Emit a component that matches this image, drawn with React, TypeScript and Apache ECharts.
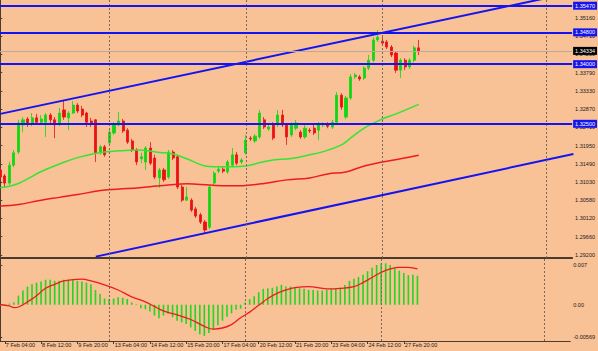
import React, { useEffect, useRef } from "react";
import * as echarts from "echarts";

// ---- data ----
const xTickLabels = ["7 Feb 04:00", "8 Feb 12:00", "9 Feb 20:00", "13 Feb 04:00", "14 Feb 12:00", "15 Feb 20:00", "17 Feb 04:00", "20 Feb 12:00", "21 Feb 20:00", "23 Feb 04:00", "24 Feb 12:00", "27 Feb 20:00"];
const xTickBars = [1, 9, 17, 25, 33, 41, 49, 57, 65, 73, 81, 89];
const priceTickLabels = ["1.29200", "1.29660", "1.30120", "1.30580", "1.31030", "1.31490", "1.31950", "1.32410", "1.32870", "1.33330", "1.33790", "1.34250", "1.34710", "1.35160"];
const macdTickValues = [0.007, 0, -0.00569];
const macdTickLabels = ["0.007", "0.00", "-0.00569"];
const weekSeparators = [24, 54, 84, 120];

// [open, close, low, high]
const candles = [
  [1.3134, 1.3116, 1.3111, 1.3139], [1.3119, 1.3101, 1.3091, 1.3124], [1.3101, 1.3146, 1.3096, 1.3154], [1.3146, 1.3177, 1.3141, 1.3184],
  [1.3179, 1.3252, 1.3174, 1.3260], [1.3247, 1.3260, 1.3229, 1.3267], [1.3262, 1.3252, 1.3242, 1.3267], [1.3252, 1.3265, 1.3244, 1.3277],
  [1.3265, 1.3254, 1.3247, 1.3275], [1.3254, 1.3262, 1.3250, 1.3272], [1.3254, 1.3272, 1.3217, 1.3277], [1.3272, 1.3260, 1.3250, 1.3277],
  [1.3260, 1.3247, 1.3214, 1.3267], [1.3252, 1.3277, 1.3244, 1.3290], [1.3285, 1.3267, 1.3260, 1.3310], [1.3265, 1.3277, 1.3234, 1.3282],
  [1.3277, 1.3297, 1.3275, 1.3307], [1.3297, 1.3282, 1.3277, 1.3302], [1.3287, 1.3272, 1.3267, 1.3295], [1.3277, 1.3254, 1.3242, 1.3280],
  [1.3257, 1.3250, 1.3242, 1.3265], [1.3260, 1.3177, 1.3154, 1.3262], [1.3177, 1.3192, 1.3172, 1.3197], [1.3192, 1.3172, 1.3167, 1.3197],
  [1.3202, 1.3229, 1.3197, 1.3239], [1.3227, 1.3247, 1.3222, 1.3254], [1.3247, 1.3257, 1.3244, 1.3280], [1.3257, 1.3232, 1.3227, 1.3262],
  [1.3234, 1.3204, 1.3199, 1.3239], [1.3207, 1.3184, 1.3179, 1.3212], [1.3184, 1.3154, 1.3146, 1.3189], [1.3162, 1.3167, 1.3151, 1.3177],
  [1.3154, 1.3189, 1.3134, 1.3194], [1.3189, 1.3151, 1.3146, 1.3204], [1.3164, 1.3116, 1.3111, 1.3172], [1.3114, 1.3134, 1.3089, 1.3139],
  [1.3134, 1.3109, 1.3104, 1.3139], [1.3116, 1.3179, 1.3111, 1.3184], [1.3179, 1.3164, 1.3159, 1.3184], [1.3167, 1.3091, 1.3086, 1.3172],
  [1.3091, 1.3058, 1.3053, 1.3096], [1.3058, 1.3066, 1.3056, 1.3091], [1.3058, 1.3033, 1.3028, 1.3063], [1.3036, 1.3018, 1.3013, 1.3041],
  [1.3021, 1.3003, 1.2998, 1.3026], [1.3003, 1.2983, 1.2975, 1.3008], [1.2990, 1.3091, 1.2985, 1.3096], [1.3101, 1.3126, 1.3096, 1.3131],
  [1.3131, 1.3136, 1.3126, 1.3144], [1.3136, 1.3131, 1.3126, 1.3141], [1.3129, 1.3154, 1.3124, 1.3159], [1.3146, 1.3172, 1.3141, 1.3189],
  [1.3172, 1.3151, 1.3146, 1.3179], [1.3154, 1.3159, 1.3149, 1.3164], [1.3177, 1.3209, 1.3172, 1.3222], [1.3214, 1.3212, 1.3207, 1.3219],
  [1.3207, 1.3219, 1.3202, 1.3224], [1.3217, 1.3277, 1.3212, 1.3285], [1.3260, 1.3242, 1.3237, 1.3267], [1.3237, 1.3242, 1.3232, 1.3247],
  [1.3247, 1.3214, 1.3209, 1.3254], [1.3247, 1.3272, 1.3242, 1.3285], [1.3272, 1.3247, 1.3242, 1.3285], [1.3247, 1.3217, 1.3197, 1.3252],
  [1.3222, 1.3247, 1.3217, 1.3254], [1.3239, 1.3252, 1.3234, 1.3260], [1.3229, 1.3217, 1.3212, 1.3234], [1.3217, 1.3239, 1.3212, 1.3247],
  [1.3234, 1.3232, 1.3227, 1.3239], [1.3239, 1.3227, 1.3222, 1.3247], [1.3234, 1.3247, 1.3209, 1.3254], [1.3247, 1.3250, 1.3242, 1.3254],
  [1.3250, 1.3244, 1.3239, 1.3254], [1.3242, 1.3254, 1.3237, 1.3260], [1.3254, 1.3322, 1.3250, 1.3330], [1.3322, 1.3292, 1.3285, 1.3327],
  [1.3267, 1.3315, 1.3262, 1.3320], [1.3315, 1.3368, 1.3310, 1.3375], [1.3368, 1.3373, 1.3363, 1.3378], [1.3368, 1.3363, 1.3358, 1.3373],
  [1.3365, 1.3390, 1.3360, 1.3395], [1.3390, 1.3410, 1.3385, 1.3423], [1.3410, 1.3461, 1.3405, 1.3468], [1.3461, 1.3468, 1.3456, 1.3486],
  [1.3458, 1.3453, 1.3448, 1.3473], [1.3456, 1.3443, 1.3438, 1.3461], [1.3443, 1.3423, 1.3418, 1.3448], [1.3428, 1.3385, 1.3378, 1.3433],
  [1.3385, 1.3410, 1.3365, 1.3415], [1.3410, 1.3393, 1.3385, 1.3415], [1.3393, 1.3410, 1.3388, 1.3415], [1.3410, 1.3441, 1.3405, 1.3446],
  [1.3441, 1.3433, 1.3423, 1.3461],
];

// [bar, price]
const maFast = [
  [0, 1.3089], [4, 1.3100], [9, 1.3130], [13, 1.3149], [17, 1.3165], [22, 1.3178], [26, 1.3182], [30, 1.3184],
  [35, 1.3178], [38, 1.3174], [41, 1.3162], [45, 1.3144], [47, 1.3142], [51, 1.3142], [54, 1.3144], [57, 1.3152],
  [60, 1.3159], [64, 1.3163], [68, 1.3172], [71, 1.3180], [75, 1.3197], [77, 1.3214], [80, 1.3239], [84, 1.3262],
  [87, 1.3275], [92, 1.3299],
];
const maSlow = [
  [0, 1.3043], [4, 1.3047], [9, 1.3058], [13, 1.3065], [17, 1.3072], [22, 1.3082], [28, 1.3087], [33, 1.3092],
  [37, 1.3096], [41, 1.3099], [46, 1.3096], [50, 1.3094], [54, 1.3095], [58, 1.3100], [63, 1.3109], [68, 1.3114],
  [72, 1.3124], [76, 1.3129], [80, 1.3144], [84, 1.3154], [88, 1.3162], [92, 1.3171],
];

const macdHist = [
  -0.0002, -0.0002, 0.0002, 0.0004, 0.0016, 0.0025, 0.0032, 0.0036, 0.0039, 0.0041,
  0.0044, 0.0044, 0.0042, 0.0042, 0.0044, 0.0044, 0.0044, 0.0042, 0.0041, 0.0039,
  0.0036, 0.0026, 0.0019, 0.0011, 0.0010, 0.0011, 0.0013, 0.0012, 0.0010, 0.0004,
  0.0001, -0.0006, -0.0008, -0.0012, -0.0019, -0.0024, -0.0019, -0.0016, -0.0022, -0.0028,
  -0.0031, -0.0034, -0.0040, -0.0046, -0.0052, -0.0055, -0.0050, -0.0044, -0.0036, -0.0028,
  -0.0021, -0.0015, -0.0009, -0.0007, 0.0004, 0.0010, 0.0015, 0.0022, 0.0028, 0.0029,
  0.0030, 0.0032, 0.0035, 0.0032, 0.0032, 0.0030, 0.0029, 0.0028, 0.0026, 0.0026,
  0.0025, 0.0025, 0.0026, 0.0028, 0.0029, 0.0030, 0.0035, 0.0042, 0.0046, 0.0049,
  0.0053, 0.0059, 0.0065, 0.0070, 0.0073, 0.0073, 0.0070, 0.0064, 0.0060, 0.0056,
  0.0052, 0.0053, 0.0051,
];
const macdSignal = [
  [0, 0.0000], [2, -0.0002], [3, -0.0005], [4, -0.0004], [6, 0.0005], [8, 0.0016], [10, 0.0029], [12, 0.0036],
  [14, 0.0042], [18, 0.0045], [20, 0.0042], [23, 0.0035], [26, 0.0026], [29, 0.0014], [32, 0.0005], [34, -0.0003],
  [36, -0.0011], [39, -0.0018], [42, -0.0026], [45, -0.0038], [47, -0.0043], [49, -0.0041], [51, -0.0035], [53, -0.0023],
  [55, -0.0013], [57, -0.0001], [59, 0.0011], [61, 0.0020], [63, 0.0026], [65, 0.0030], [68, 0.0032], [72, 0.0028],
  [75, 0.0029], [78, 0.0032], [80, 0.0039], [82, 0.0048], [84, 0.0057], [86, 0.0063], [88, 0.0066], [90, 0.0066],
  [92, 0.0063],
];

const levels = [1.3547, 1.348, 1.34, 1.325];
const bidPrice = 1.34334;
const upperTrend = [[0, 1.3275], [120, 1.3566]];
const lowerTrend = [[21, 1.2916], [126, 1.3174]];

// ---- styles ----
const BG = "#F8C196";
const FRAME = "#4B3B2E";
const BLUE = "#1414F0";
const TXT = "#1a1a1a";
const FONT = "Liberation Sans";
const FS = 5.5;
const X_MIN = -0.059;
const X_MAX = 125.71;

export default function App() {
  const ref = useRef<HTMLDivElement>(null);
  useEffect(() => {
    const chart = echarts.init(ref.current!, null, { renderer: "svg" });

    const sepLines = weekSeparators.map((b) => ({
      xAxis: b,
      lineStyle: { type: [2, 2], color: "#7C6858", width: 1 },
      label: { show: false },
    }));

    const levelLines: any[] = levels.map((v) => ({
      yAxis: v,
      lineStyle: { color: BLUE, width: 2, type: "solid" },
      label: {
        show: true, position: "end", formatter: v.toFixed(5), distance: 1,
        backgroundColor: BLUE, color: "#ffffff", fontSize: FS, fontFamily: FONT, padding: [1, 2, 1, 2],
      },
    }));
    levelLines.push({
      yAxis: bidPrice,
      lineStyle: { color: "#BCA99A", width: 1, type: "solid" },
      label: {
        show: true, position: "end", formatter: bidPrice.toFixed(5), distance: 1,
        backgroundColor: "#000000", color: "#ffffff", fontSize: FS, fontFamily: FONT, padding: [1, 2, 1, 2],
      },
    });

    const option: any = {
      animation: false,
      backgroundColor: BG,
      textStyle: { fontFamily: FONT },
      grid: [
        { left: 0, top: 0, width: 575, height: 258 },
        { left: 0, top: 259, width: 575, height: 82 },
      ],
      xAxis: [
        {
          type: "value", gridIndex: 0, min: X_MIN, max: X_MAX,
          axisLine: { show: true, onZero: false, lineStyle: { color: FRAME, width: 2 } },
          axisTick: { show: false }, axisLabel: { show: false }, splitLine: { show: false },
        },
        {
          type: "value", gridIndex: 1, min: X_MIN, max: X_MAX,
          axisLine: { show: true, onZero: false, lineStyle: { color: FRAME, width: 1 } },
          axisTick: { show: true, customValues: xTickBars, length: 3, lineStyle: { color: FRAME } },
          axisLabel: {
            show: true, customValues: xTickBars, align: "left", margin: 1, padding: [0, 0, 0, 1],
            fontSize: FS, color: TXT, fontFamily: FONT,
            formatter: (v: number) => {
              const i = xTickBars.indexOf(Math.round(v));
              return i >= 0 ? xTickLabels[i] : "";
            },
          },
          splitLine: { show: false },
        },
      ],
      yAxis: [
        {
          type: "value", gridIndex: 0, position: "right", min: 1.29125, max: 1.35614, scale: true,
          axisLine: { show: true, lineStyle: { color: FRAME, width: 1 } },
          axisTick: { show: true, customValues: priceTickLabels.map(Number), length: 2, lineStyle: { color: FRAME } },
          axisLabel: {
            show: true, customValues: priceTickLabels.map(Number), margin: 3,
            fontSize: FS, color: TXT, fontFamily: FONT,
            formatter: (v: number) => v.toFixed(5),
          },
          splitLine: { show: false },
        },
        {
          type: "value", gridIndex: 1, position: "right", min: -0.00639, max: 0.00806,
          axisLine: { show: true, lineStyle: { color: FRAME, width: 1 } },
          axisTick: { show: true, customValues: macdTickValues, length: 2, lineStyle: { color: FRAME } },
          axisLabel: {
            show: true, customValues: macdTickValues, margin: 3,
            fontSize: FS, color: TXT, fontFamily: FONT,
            formatter: (v: number) => {
              let best = 0;
              macdTickValues.forEach((t, i) => { if (Math.abs(t - v) < Math.abs(macdTickValues[best] - v)) best = i; });
              return macdTickLabels[best];
            },
          },
          splitLine: { show: false },
        },
      ],
      series: [
        {
          type: "candlestick", xAxisIndex: 0, yAxisIndex: 0,
          encode: { x: 0, y: [1, 2, 3, 4] },
          barWidth: 2.6,
          itemStyle: { color: "#12D612", color0: "#E81212", borderColor: "#12D612", borderColor0: "#E81212", borderWidth: 0.8 },
          data: candles.map((c, i) => [i, c[0], c[1], c[2], c[3]]),
          markLine: { silent: true, precision: 5, symbol: ["none", "none"], animation: false, data: sepLines },
        },
        {
          type: "line", xAxisIndex: 0, yAxisIndex: 0, data: maFast, smooth: 0.4, showSymbol: false,
          lineStyle: { color: "#33E633", width: 1.5 },
        },
        {
          type: "line", xAxisIndex: 0, yAxisIndex: 0, data: maSlow, smooth: 0.4, showSymbol: false,
          lineStyle: { color: "#EE1C1C", width: 1.5 },
        },
        {
          type: "line", xAxisIndex: 0, yAxisIndex: 0, data: upperTrend, showSymbol: false, clip: true,
          lineStyle: { color: BLUE, width: 2 },
        },
        {
          type: "line", xAxisIndex: 0, yAxisIndex: 0, data: lowerTrend, showSymbol: false, clip: true,
          lineStyle: { color: BLUE, width: 2 },
          markLine: { silent: true, precision: 5, symbol: ["none", "none"], animation: false, data: levelLines },
        },
        {
          type: "bar", xAxisIndex: 1, yAxisIndex: 1, barWidth: 1.6,
          itemStyle: { color: "#22D622" },
          data: macdHist.map((v, i) => [i, v]),
          markLine: { silent: true, precision: 5, symbol: ["none", "none"], animation: false, data: sepLines },
        },
        {
          type: "line", xAxisIndex: 1, yAxisIndex: 1, data: macdSignal, smooth: 0.4, showSymbol: false,
          lineStyle: { color: "#EE1C1C", width: 1.3 },
        },
      ],
    };
    chart.setOption(option);
    return () => chart.dispose();
  }, []);
  return (
    <div
      ref={ref}
      style={{ position: "fixed", left: 0, top: 0, width: 598, height: 351, background: BG }}
    />
  );
}
